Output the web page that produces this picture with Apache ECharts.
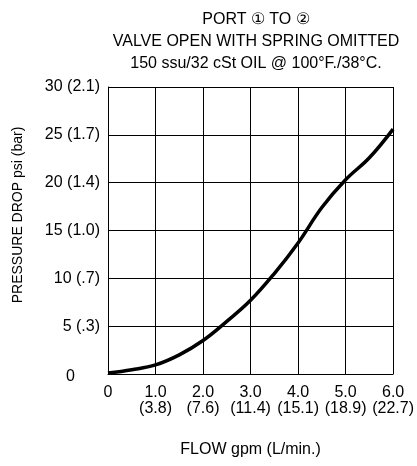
<!DOCTYPE html>
<html>
<head>
<meta charset="utf-8">
<script src="https://cdn.jsdelivr.net/npm/echarts@6/dist/echarts.min.js"></script>
<style>
  html, body { margin: 0; padding: 0; background: #fff; }
  #chart { width: 417px; height: 466px; }
</style>
</head>
<body>
<div id="chart"></div>
<script>
// flow in gpm, pressure drop in psi
const flow = [0, 0.5, 1.0, 1.5, 2.0, 2.5, 3.0, 3.5, 4.0, 4.5, 5.0, 5.5, 6.0]
const pressure = [0.1, 0.45, 0.95, 2.0, 3.5, 5.5, 7.7, 10.5, 13.7, 17.4, 20.3, 22.6, 25.6]

const xLabels = ['0', '1.0\n(3.8)', '2.0\n(7.6)', '3.0\n(11.4)', '4.0\n(15.1)', '5.0\n(18.9)', '6.0\n(22.7)']
const yLabels = ['0', '5 (.3)', '10 (.7)', '15 (1.0)', '20 (1.4)', '25 (1.7)', '30 (2.1)']

const font = 'Liberation Sans, Arial, sans-serif'

let option = {
  backgroundColor: '#fff',
  animation: false,
  title: {
    text: 'PORT \u2460 TO \u2461\nVALVE OPEN WITH SPRING OMITTED\n150 ssu/32 cSt OIL @ 100°F./38°C.',
    left: 251,
    top: 4,
    textAlign: 'center',
    textStyle: {
      fontFamily: font,
      fontWeight: 'normal',
      fontSize: 16,
      lineHeight: 22,
      color: '#000'
    }
  },
  grid: {
    left: 108,
    right: 20,
    top: 87,
    bottom: 92
  },
  xAxis: {
    type: 'value',
    min: 0,
    max: 6,
    interval: 1,
    name: 'FLOW gpm (L/min.)',
    nameLocation: 'middle',
    nameGap: 68,
    nameTextStyle: { fontFamily: font, fontSize: 16, color: '#000' },
    axisLine: { show: true, lineStyle: { color: '#000', width: 1 } },
    axisTick: { show: false },
    splitLine: { show: true, lineStyle: { color: '#000', width: 1 } },
    axisLabel: {
      margin: 11,
      fontFamily: font,
      fontSize: 16,
      lineHeight: 16,
      color: '#000',
      verticalAlign: 'top',
      formatter: (v) => xLabels[Math.round(v)]
    }
  },
  yAxis: {
    type: 'value',
    min: 0,
    max: 30,
    interval: 5,
    axisLine: { show: true, lineStyle: { color: '#000', width: 1 } },
    axisTick: { show: false },
    splitLine: { show: true, lineStyle: { color: '#000', width: 1 } },
    axisLabel: {
      margin: 8,
      fontFamily: font,
      fontSize: 16,
      color: '#000',
      formatter: (v) => (v === 0 ? '{z|0}' : yLabels[Math.round(v / 5)]),
      rich: {
        z: { fontFamily: font, fontSize: 16, color: '#000', padding: [6, 25, 0, 0] }
      }
    }
  },
  graphic: [
    {
      type: 'text',
      rotation: Math.PI / 2,
      x: 18,
      y: 215,
      style: {
        text: 'PRESSURE DROP psi (bar)',
        fontFamily: font,
        fontSize: 14,
        fill: '#000',
        align: 'center',
        verticalAlign: 'middle'
      }
    }
  ],
  series: [
    {
      type: 'line',
      smooth: 0.4,
      symbol: 'none',
      lineStyle: { color: '#000', width: 3.5 },
      data: flow.map((x, i) => [x, pressure[i]])
    }
  ]
}

let myChart = echarts.init(document.getElementById('chart'))
myChart.setOption(option)
</script>
</body>
</html>
